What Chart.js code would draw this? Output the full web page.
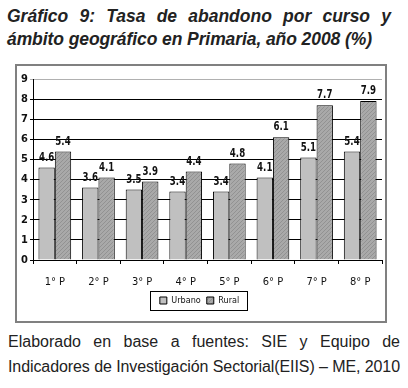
<!DOCTYPE html>
<html>
<head>
<meta charset="utf-8">
<script src="https://cdn.jsdelivr.net/npm/chart.js@4.4.0/dist/chart.umd.min.js"></script>
<style>
  html, body { margin: 0; padding: 0; background: #fff; }
  body { width: 408px; height: 388px; position: relative; overflow: hidden; font-family: "Liberation Sans", Arial, sans-serif; color: #222; }
  .line { position: absolute; white-space: nowrap; text-align: justify; text-align-last: justify; }
  .title { left: 7px; width: 384px; font-weight: bold; font-style: italic; font-size: 17.5px; }
  .cap { left: 8px; width: 392px; font-size: 16px; }
  #frame {
    position: absolute; left: 15px; top: 64px; width: 368px; height: 255px;
    border: 2px solid #808080;
  }
</style>
</head>
<body>
<div class="line title" id="t1" style="top:6px">Gráfico 9: Tasa de abandono por curso y</div>
<div class="line title fit" id="t2" style="top:29px; text-align-last:left">ámbito geográfico en Primaria, año 2008 (%)</div>
<div id="frame"><canvas id="chart" width="368" height="255"></canvas></div>
<div class="line cap" id="c1" style="top:333px">Elaborado en base a fuentes: SIE y Equipo de</div>
<div class="line cap fit" id="c2" style="top:358px">Indicadores de Investigación Sectorial(EIIS) – ME, 2010</div>
<script>
// --- data ---
const cursos = ['1° P', '2° P', '3° P', '4° P', '5° P', '6° P', '7° P', '8° P'];
const urbano = [4.6, 3.6, 3.5, 3.4, 3.4, 4.1, 5.1, 5.4];
const rural = [5.4, 4.1, 3.9, 4.4, 4.8, 6.1, 7.7, 7.9];
const yTicks = [0, 1, 2, 3, 4, 5, 6, 7, 8, 9];

const condensed = '"DejaVu Sans Condensed", "Liberation Sans Narrow", sans-serif';

// squeeze/stretch a text line to its target width with letter-spacing
function fitLine(id, target) {
    const el = document.getElementById(id);
    const span = document.createElement('span');
    span.textContent = el.textContent;
    el.textContent = '';
    el.appendChild(span);
    const w = span.getBoundingClientRect().width;
    const n = span.textContent.length - 1;
    span.style.letterSpacing = ((target - w) / n) + 'px';
}
fitLine('t2', 365);
fitLine('c2', 392);

// hatched fill for the Rural bars
function makeHatch() {
    const c = document.createElement('canvas');
    c.width = 4; c.height = 4;
    const g = c.getContext('2d');
    g.fillStyle = '#a9a9a9';
    g.fillRect(0, 0, 4, 4);
    g.fillStyle = '#929292';
    for (let i = 0; i < 4; i++) g.fillRect(i, 3 - i, 1, 1);
    return g.createPattern(c, 'repeat');
}

// value labels above each bar
const valueLabels = {
    id: 'valueLabels',
    afterDatasetsDraw(chart) {
        const ctx = chart.ctx;
        chart.data.datasets.forEach((ds, i) => {
            chart.getDatasetMeta(i).data.forEach((bar, j) => {
                ctx.save();
                ctx.translate(bar.x, bar.y - 4);
                ctx.scale(0.8, 1);
                ctx.font = 'bold 12px ' + condensed;
                ctx.fillStyle = '#111';
                ctx.textAlign = 'center';
                ctx.textBaseline = 'bottom';
                ctx.fillText(ds.data[j].toFixed(1), 0, 0);
                ctx.restore();
            });
        });
    }
};

// box around the legend
const legendBox = {
    id: 'legendBox',
    afterDraw(chart) {
        const boxes = chart.legend && chart.legend.legendHitBoxes;
        if (!boxes || !boxes.length) return;
        const left = Math.min(...boxes.map(b => b.left)) - 10;
        const right = Math.max(...boxes.map(b => b.left + b.width)) + 8;
        const top = Math.min(...boxes.map(b => b.top)) - 5;
        const bottom = Math.max(...boxes.map(b => b.top + b.height)) + 5;
        const ctx = chart.ctx;
        ctx.save();
        ctx.strokeStyle = '#000';
        ctx.lineWidth = 1;
        ctx.strokeRect(Math.round(left) + 0.5, Math.round(top) + 0.5, Math.round(right - left), Math.round(bottom - top));
        ctx.restore();
    }
};

new Chart(document.getElementById('chart'), {
    type: 'bar',
    data: {
        labels: cursos,
        datasets: [
            {
                label: 'Urbano',
                data: urbano,
                backgroundColor: '#c0c0c0',
                borderColor: '#000',
                borderWidth: 1,
                categoryPercentage: 0.75,
                barPercentage: 1.0
            },
            {
                label: 'Rural',
                data: rural,
                backgroundColor: makeHatch(),
                borderColor: '#000',
                borderWidth: 1,
                categoryPercentage: 0.75,
                barPercentage: 1.0
            }
        ]
    },
    options: {
        responsive: false,
        animation: false,
        layout: { padding: { top: 13, right: 3, left: 0, bottom: 6 } },
        plugins: {
            tooltip: { enabled: false },
            legend: {
                position: 'bottom',
                labels: {
                    boxWidth: 7,
                    boxHeight: 7,
                    padding: 6,
                    color: '#111',
                    font: { family: condensed, size: 9 }
                }
            }
        },
        scales: {
            x: {
                grid: {
                    display: true,
                    drawOnChartArea: false,
                    drawTicks: true,
                    tickLength: 4,
                    offset: true,
                    color: '#000'
                },
                border: { color: '#000', width: 1 },
                ticks: {
                    color: '#111',
                    padding: 12,
                    font: { family: condensed, size: 11 }
                },
                afterFit(axis) { axis.height = 30; }
            },
            y: {
                min: 0,
                max: 9,
                afterBuildTicks(axis) { axis.ticks = yTicks.map(v => ({ value: v })); },
                grid: {
                    color: ctx => (ctx.tick && ctx.tick.value === 9) ? '#b0b0b0' : '#000',
                    tickLength: 3
                },
                border: { color: '#000', width: 1 },
                ticks: {
                    color: '#111',
                    padding: 2,
                    font: { family: condensed, size: 11, weight: 'bold' }
                },
                afterFit(axis) { axis.width = 16; }
            }
        }
    },
    plugins: [valueLabels, legendBox]
});
</script>
</body>
</html>
